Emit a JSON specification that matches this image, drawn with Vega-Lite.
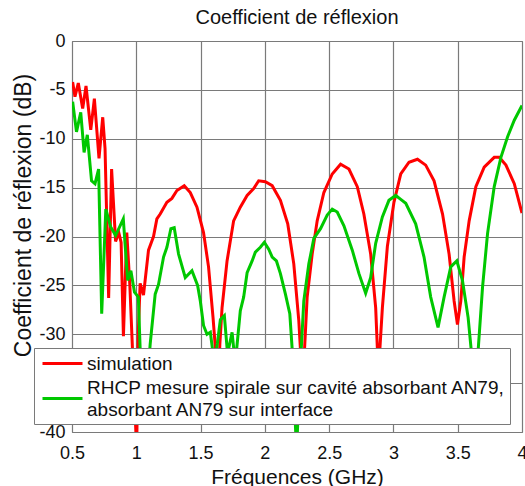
{
  "$schema": "https://vega.github.io/schema/vega-lite/v6.json",
  "width": 450,
  "height": 391,
  "autosize": {"type": "none"},
  "padding": {"left": 72, "top": 41, "right": 3, "bottom": 54},
  "background": "white",
  "config": {
    "view": {"stroke": "#7a7a7a", "strokeWidth": 1},
    "font": "Liberation Sans"
  },
  "title": {
    "text": "Coefficient de réflexion",
    "fontSize": 20,
    "fontWeight": "normal",
    "font": "Liberation Sans",
    "color": "#111111",
    "anchor": "middle",
    "offset": 4
  },
  "datasets": {
    "simulation": [
      {"f": 0.505, "db": -4.2}, {"f": 0.523, "db": -5.7}, {"f": 0.549, "db": -4.3}, {"f": 0.583, "db": -6.9},
      {"f": 0.609, "db": -4.6}, {"f": 0.646, "db": -9.1}, {"f": 0.674, "db": -5.9}, {"f": 0.71, "db": -12.0},
      {"f": 0.739, "db": -7.8}, {"f": 0.757, "db": -11.0}, {"f": 0.785, "db": -26.3}, {"f": 0.808, "db": -13.1},
      {"f": 0.839, "db": -20.5}, {"f": 0.864, "db": -19.6}, {"f": 0.882, "db": -20.6}, {"f": 0.9, "db": -30.2},
      {"f": 0.926, "db": -19.6}, {"f": 0.95, "db": -25.0}, {"f": 0.975, "db": -33.0}, {"f": 1.003, "db": -42.0},
      {"f": 1.015, "db": -30.0}, {"f": 1.03, "db": -24.8}, {"f": 1.056, "db": -26.0}, {"f": 1.095, "db": -21.4},
      {"f": 1.134, "db": -20.0}, {"f": 1.16, "db": -18.2}, {"f": 1.186, "db": -17.7}, {"f": 1.238, "db": -16.5},
      {"f": 1.277, "db": -16.1}, {"f": 1.316, "db": -15.3}, {"f": 1.373, "db": -14.8}, {"f": 1.42, "db": -15.5},
      {"f": 1.472, "db": -17.0}, {"f": 1.523, "db": -19.6}, {"f": 1.562, "db": -23.1}, {"f": 1.597, "db": -28.3},
      {"f": 1.615, "db": -31.4}, {"f": 1.632, "db": -38.0}, {"f": 1.65, "db": -31.0}, {"f": 1.667, "db": -27.3},
      {"f": 1.706, "db": -22.5}, {"f": 1.757, "db": -18.4}, {"f": 1.809, "db": -17.0}, {"f": 1.862, "db": -15.8},
      {"f": 1.913, "db": -15.1}, {"f": 1.952, "db": -14.3}, {"f": 2.004, "db": -14.4}, {"f": 2.057, "db": -14.8},
      {"f": 2.121, "db": -16.3}, {"f": 2.178, "db": -18.7}, {"f": 2.225, "db": -22.8}, {"f": 2.264, "db": -28.6},
      {"f": 2.283, "db": -33.0}, {"f": 2.293, "db": -37.0}, {"f": 2.303, "db": -33.0}, {"f": 2.329, "db": -26.2},
      {"f": 2.368, "db": -21.8}, {"f": 2.407, "db": -18.4}, {"f": 2.459, "db": -15.5}, {"f": 2.524, "db": -13.6},
      {"f": 2.589, "db": -12.6}, {"f": 2.654, "db": -13.1}, {"f": 2.719, "db": -14.9}, {"f": 2.77, "db": -17.7},
      {"f": 2.823, "db": -21.8}, {"f": 2.862, "db": -27.3}, {"f": 2.883, "db": -34.0}, {"f": 2.914, "db": -27.3},
      {"f": 2.953, "db": -21.0}, {"f": 3.004, "db": -16.5}, {"f": 3.057, "db": -13.6}, {"f": 3.121, "db": -12.4},
      {"f": 3.187, "db": -12.1}, {"f": 3.251, "db": -12.7}, {"f": 3.316, "db": -14.3}, {"f": 3.382, "db": -17.7},
      {"f": 3.433, "db": -21.8}, {"f": 3.472, "db": -26.6}, {"f": 3.498, "db": -29.0}, {"f": 3.524, "db": -26.6},
      {"f": 3.55, "db": -22.1}, {"f": 3.589, "db": -18.4}, {"f": 3.641, "db": -14.9}, {"f": 3.706, "db": -12.9},
      {"f": 3.784, "db": -11.9}, {"f": 3.823, "db": -11.9}, {"f": 3.875, "db": -12.7}, {"f": 3.94, "db": -14.6},
      {"f": 4.0, "db": -17.6}
    ],
    "rhcp": [
      {"f": 0.505, "db": -6.2}, {"f": 0.535, "db": -9.3}, {"f": 0.568, "db": -7.3}, {"f": 0.594, "db": -11.4},
      {"f": 0.619, "db": -9.6}, {"f": 0.652, "db": -14.3}, {"f": 0.679, "db": -14.6}, {"f": 0.707, "db": -13.1},
      {"f": 0.731, "db": -27.9}, {"f": 0.763, "db": -17.2}, {"f": 0.8, "db": -19.0}, {"f": 0.839, "db": -19.9},
      {"f": 0.899, "db": -18.2}, {"f": 0.933, "db": -24.5}, {"f": 0.958, "db": -23.5}, {"f": 0.986, "db": -25.7},
      {"f": 1.016, "db": -26.2}, {"f": 1.034, "db": -33.0}, {"f": 1.069, "db": -38.0}, {"f": 1.108, "db": -31.0},
      {"f": 1.147, "db": -25.9}, {"f": 1.173, "db": -24.9}, {"f": 1.212, "db": -22.1}, {"f": 1.238, "db": -21.1},
      {"f": 1.269, "db": -19.2}, {"f": 1.295, "db": -19.1}, {"f": 1.329, "db": -21.8}, {"f": 1.381, "db": -24.2},
      {"f": 1.433, "db": -23.5}, {"f": 1.477, "db": -25.0}, {"f": 1.498, "db": -26.6}, {"f": 1.523, "db": -29.1},
      {"f": 1.55, "db": -30.0}, {"f": 1.576, "db": -29.8}, {"f": 1.607, "db": -33.0}, {"f": 1.63, "db": -31.0},
      {"f": 1.654, "db": -28.5}, {"f": 1.685, "db": -28.1}, {"f": 1.71, "db": -32.0}, {"f": 1.745, "db": -29.8},
      {"f": 1.77, "db": -33.0}, {"f": 1.809, "db": -27.6}, {"f": 1.835, "db": -26.2}, {"f": 1.862, "db": -23.7},
      {"f": 1.901, "db": -22.5}, {"f": 1.926, "db": -21.6}, {"f": 1.965, "db": -21.1}, {"f": 1.996, "db": -20.6},
      {"f": 2.03, "db": -21.3}, {"f": 2.057, "db": -22.1}, {"f": 2.09, "db": -22.5}, {"f": 2.121, "db": -23.8},
      {"f": 2.16, "db": -25.9}, {"f": 2.194, "db": -27.9}, {"f": 2.215, "db": -32.0}, {"f": 2.246, "db": -42.0},
      {"f": 2.277, "db": -33.0}, {"f": 2.303, "db": -26.6}, {"f": 2.342, "db": -22.8}, {"f": 2.381, "db": -20.2},
      {"f": 2.433, "db": -19.2}, {"f": 2.485, "db": -17.8}, {"f": 2.524, "db": -17.2}, {"f": 2.563, "db": -17.5},
      {"f": 2.615, "db": -18.9}, {"f": 2.68, "db": -21.4}, {"f": 2.732, "db": -23.8}, {"f": 2.784, "db": -25.8},
      {"f": 2.823, "db": -24.2}, {"f": 2.862, "db": -20.7}, {"f": 2.914, "db": -18.0}, {"f": 2.965, "db": -16.3},
      {"f": 3.018, "db": -15.8}, {"f": 3.057, "db": -16.2}, {"f": 3.096, "db": -16.6}, {"f": 3.173, "db": -18.7},
      {"f": 3.238, "db": -22.1}, {"f": 3.29, "db": -26.2}, {"f": 3.347, "db": -29.3}, {"f": 3.394, "db": -26.2},
      {"f": 3.446, "db": -23.1}, {"f": 3.493, "db": -22.5}, {"f": 3.537, "db": -24.5}, {"f": 3.581, "db": -28.3},
      {"f": 3.608, "db": -32.0}, {"f": 3.633, "db": -36.0}, {"f": 3.657, "db": -32.0}, {"f": 3.693, "db": -25.2},
      {"f": 3.732, "db": -19.7}, {"f": 3.784, "db": -14.9}, {"f": 3.836, "db": -11.9}, {"f": 3.888, "db": -9.8},
      {"f": 3.94, "db": -8.1}, {"f": 4.0, "db": -6.6}
    ]
  },
  "encoding": {
    "x": {
      "field": "f",
      "type": "quantitative",
      "scale": {"domain": [0.5, 4], "nice": false, "zero": false},
      "axis": {
        "values": [0.5, 1, 1.5, 2, 2.5, 3, 3.5, 4],
        "title": "Fréquences (GHz)",
        "titleFontSize": 21,
        "titleFontWeight": "normal",
        "titleColor": "#111111",
        "titleBaseline": "alphabetic",
        "titleY": 51,
        "labelFontSize": 18,
        "labelColor": "#111111",
        "labelExpr": "datum.value + ''",
        "labelFlush": false,
        "labelPadding": 12,
        "tickSize": 0,
        "domain": false,
        "grid": true,
        "gridColor": "#7a7a7a",
        "gridOpacity": 1,
        "gridWidth": 1.2
      }
    },
    "y": {
      "field": "db",
      "type": "quantitative",
      "scale": {"domain": [-40, 0], "nice": false},
      "axis": {
        "values": [-40, -35, -30, -25, -20, -15, -10, -5, 0],
        "title": "Coefficient de réflexion (dB)",
        "titleFontSize": 23,
        "titleFontWeight": "normal",
        "titleColor": "#111111",
        "titleAngle": -90,
        "titleAlign": "center",
        "titleBaseline": "middle",
        "titleX": -49,
        "titleY": 174,
        "labelFontSize": 18,
        "labelColor": "#111111",
        "labelExpr": "datum.value + ''",
        "labelPadding": 7,
        "labelFlush": false,
        "tickSize": 0,
        "domain": false,
        "grid": true,
        "gridColor": "#7a7a7a",
        "gridOpacity": 1,
        "gridWidth": 1.2
      }
    }
  },
  "layer": [
    {
      "data": {"name": "simulation"},
      "mark": {"type": "line", "strokeWidth": 3, "clip": true},
      "encoding": {
        "color": {
          "datum": "simulation",
          "type": "nominal",
          "scale": {
            "domain": ["simulation", "RHCP mesure spirale sur cavité absorbant AN79, absorbant AN79 sur interface"],
            "range": ["#ff0000", "#00c800"]
          },
          "legend": {
            "orient": "none",
            "legendX": -38,
            "legendY": 307,
            "title": null,
            "fillColor": "white",
            "strokeColor": "#7a7a7a",
            "padding": 4,
            "symbolType": "M-0.7,0H3.3",
            "symbolSize": 400,
            "symbolStrokeWidth": 3,
            "labelFontSize": 19,
            "labelColor": "#111111",
            "labelLimit": 500,
            "labelOffset": 26,
            "rowPadding": 4,
            "labelExpr": "datum.label == 'simulation' ? datum.label : [slice(datum.label, 0, 46), ' ' + slice(datum.label, 47)]",
            "encoding": {
              "labels": {
                "dy": {"value": {"expr": "datum.value == 'simulation' ? 0 : -11"}},
                "lineHeight": {"value": 22}
              }
            }
          }
        }
      }
    },
    {
      "data": {"name": "rhcp"},
      "mark": {"type": "line", "strokeWidth": 3, "clip": true},
      "encoding": {
        "color": {"datum": "RHCP mesure spirale sur cavité absorbant AN79, absorbant AN79 sur interface", "type": "nominal"}
      }
    }
  ]
}
